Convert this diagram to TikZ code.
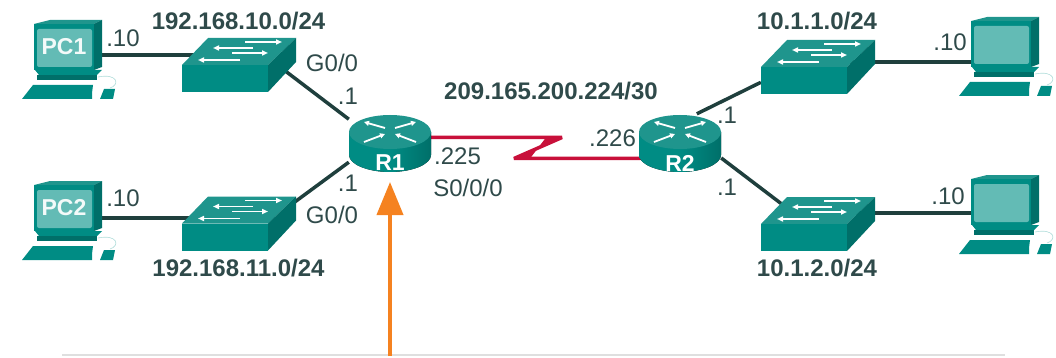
\documentclass[tikz,border=0pt]{standalone}
\usepackage{fontspec}
\usepackage{xcolor}
\usetikzlibrary{arrows.meta, calc}
\setmainfont{Liberation Sans}
\definecolor{devteal}{HTML}{008C84}
\definecolor{devtop}{HTML}{1F958D}
\definecolor{devdark}{HTML}{006F69}
\definecolor{devscreen}{HTML}{63BBB5}
\definecolor{inktext}{HTML}{2F4A4A}
\definecolor{etherline}{HTML}{1F3F3D}
\definecolor{seriallink}{HTML}{C8103A}
\definecolor{pointer}{HTML}{F58220}
\tikzset{
    devbox/.style={inner sep=0pt, draw=none},
    ether/.style={etherline, line width=3.5pt},
    serial/.style={seriallink, line width=3.5pt, line join=bevel},
    netlabel/.style={font=\fontsize{24}{24}\selectfont\bfseries, text=inktext, inner sep=0pt},
    addrlabel/.style={font=\fontsize{24}{24}\selectfont, text=inktext, inner sep=0pt},
    pcicon/.pic={
        \fill[devtop] (-34,-31) -- (-18,-35) -- (34,-35) -- (26,-31) -- cycle;
        \fill[devteal] (-34,-31) rectangle (26,15);
        \fill[devdark] (26,-31) -- (34,-35) -- (34,12) -- (26,15) -- cycle;
        \fill[devscreen, rounded corners=2pt] (-31,-26) rectangle (24,12);
        \node[font=\fontsize{23}{23}\selectfont\bfseries, text=white!92!devscreen, inner sep=0pt] at (-4,-8) {#1};
        \fill[devteal] (-33,15) -- (34,15) -- (29,20) -- (-29,20) -- cycle;
        \fill[devdark] (-31,20) rectangle (29,25);
        \fill[devteal] (-35,30) -- (25,30) -- (24,38) -- (24,44) -- (-46,44) -- cycle;
        \fill[devteal] (32,44) -- (36,34) -- (47,34) -- (45,44) -- cycle;
        \draw[devscreen!50, line width=.6pt] (30,22) .. controls (50,18) and (52,30) .. (42,33);
    },
    switchicon/.pic={
        \fill[devtop] (-57,0) -- (-31,-27) -- (57,-27) -- (29,0) -- cycle;
        \fill[devteal] (-57,0) rectangle (29,27);
        \fill[devdark] (29,0) -- (57,-27) -- (57,-3) -- (29,27) -- cycle;
        \foreach \ax/\bx/\ay in {6/43/-23, 14/-26/-17, -7/29/-12, 1/-41/-5}{
            \draw[white, line width=1.6pt, -{Triangle[length=6pt, width=5pt]}] (\ax,\ay) -- (\bx,\ay);
        }
    },
    routericon/.pic={
        \fill[left color=devteal, right color=devdark, middle color=devteal] (-41,-11) -- (-41,12) .. controls (-41,21.5) and (-22,29) .. (0,29) .. controls (22,29) and (41,21.5) .. (41,12) -- (41,-11) -- cycle;
        \fill[devtop] (0,-11) ellipse[x radius=41, y radius=17];
        \foreach \sx in {1,-1}{
            \draw[white, line width=1.8pt, -{Triangle[length=5pt, width=5pt]}] (\sx*5,-15) -- (\sx*26,-21);
            \draw[white, line width=1.8pt, -{Triangle[length=5pt, width=5pt]}] (\sx*26,-1) -- (\sx*5,-9);
        }
        \node[font=\fontsize{23}{23}\selectfont\bfseries, text=white, inner sep=0pt] at (0,20) {#1};
    }
}
\begin{document}
\begin{tikzpicture}[x=1pt, y=-1pt]
    \useasboundingbox (0,0) rectangle (1056,358);
    \node[devbox, minimum width=68pt, minimum height=70pt] (pc1) at (68,55) {};
    \node[devbox, minimum width=68pt, minimum height=70pt] (pc2) at (68,216) {};
    \node[devbox, minimum width=68pt, minimum height=70pt] (pc3) at (1005,52) {};
    \node[devbox, minimum width=68pt, minimum height=70pt] (pc4) at (1005,210) {};
    \node[devbox, minimum width=114pt, minimum height=54pt] (sw1) at (239,65) {};
    \node[devbox, minimum width=114pt, minimum height=54pt] (sw2) at (239,223.5) {};
    \node[devbox, minimum width=114pt, minimum height=54pt] (sw3) at (818,67) {};
    \node[devbox, minimum width=114pt, minimum height=54pt] (sw4) at (818,224) {};
    \node[devbox, minimum width=82pt, minimum height=58pt] (r1) at (390,143) {};
    \node[devbox, minimum width=82pt, minimum height=58pt] (r2) at (680,143) {};
    \coordinate (bendr) at (562,137.5);
    \coordinate (bendl) at (514,158.5);
    \coordinate (arrowfoot) at (390,356);
    \coordinate (arrowtip) at (390,182);
    \coordinate (panelleft) at (62,355);
    \coordinate (panelright) at (1005,355);
    \draw[gray!25, line width=1.5pt] (panelleft) -- (panelright);
    \draw[ether] (pc1) -- ([yshift=10pt]sw1.center);
    \draw[ether] ([yshift=-2pt]pc2.center) -- ([yshift=5.5pt]sw2.center);
    \draw[ether] ([yshift=-10pt]pc3.center) -- ([yshift=5pt]sw3.center);
    \draw[ether] ([yshift=-3pt]pc4.center) -- ([yshift=11pt]sw4.center);
    \draw[ether] ([xshift=45pt, yshift=-5pt]sw1.center) -- (r1.150);
    \draw[ether] ([xshift=51pt, yshift=18pt]sw2.center) -- (r1.205);
    \draw[ether] (sw3.195) -- (r2.60);
    \draw[ether] ([xshift=-35pt, yshift=19pt]sw4.center) -- (r2.-20);
    \draw[serial] (r1 |- bendr) -- (bendr) -- (bendl) -- (r2 |- bendl);
    \fill[seriallink] (bendr) -- (bendl) -- ([xshift=16pt]bendl) -- ([xshift=-16pt]bendr) -- cycle;
    \pic at (pc1) {pcicon=PC1};
    \pic at (pc2) {pcicon=PC2};
    \pic at (pc3) {pcicon={}};
    \pic at (pc4) {pcicon={}};
    \pic at (sw1) {switchicon};
    \pic at (sw2) {switchicon};
    \pic at (sw3) {switchicon};
    \pic at (sw4) {switchicon};
    \pic at (r1) {routericon=R1};
    \pic at (r2) {routericon=R2};
    \draw[pointer, line width=4pt, -{Triangle[length=33pt, width=26pt]}] (arrowfoot) -- (arrowtip);
    \node[netlabel] (net1) at (238.5,21) {192.168.10.0/24};
    \node[netlabel] (net2) at (238.5,268) {192.168.11.0/24};
    \node[netlabel] (net3) at (817,21) {10.1.1.0/24};
    \node[netlabel] (net4) at (817,268) {10.1.2.0/24};
    \node[netlabel] (net5) at (551,91) {209.165.200.224/30};
    \node[addrlabel] (a1) at (123,38) {.10};
    \node[addrlabel] (a2) at (123,198) {.10};
    \node[addrlabel] (a3) at (950,42) {.10};
    \node[addrlabel] (a4) at (948,196) {.10};
    \node[addrlabel] (g1) at (332,63) {G0/0};
    \node[addrlabel] (g2) at (332,215) {G0/0};
    \node[addrlabel] (d1) at (348,96) {.1};
    \node[addrlabel] (d2) at (348,183) {.1};
    \node[addrlabel] (d3) at (727,115) {.1};
    \node[addrlabel] (d4) at (727,187) {.1};
    \node[addrlabel] (s1) at (457.5,156) {.225};
    \node[addrlabel] (s2) at (468,188) {S0/0/0};
    \node[addrlabel] (s3) at (612.5,138) {.226};
\end{tikzpicture}
\end{document}
